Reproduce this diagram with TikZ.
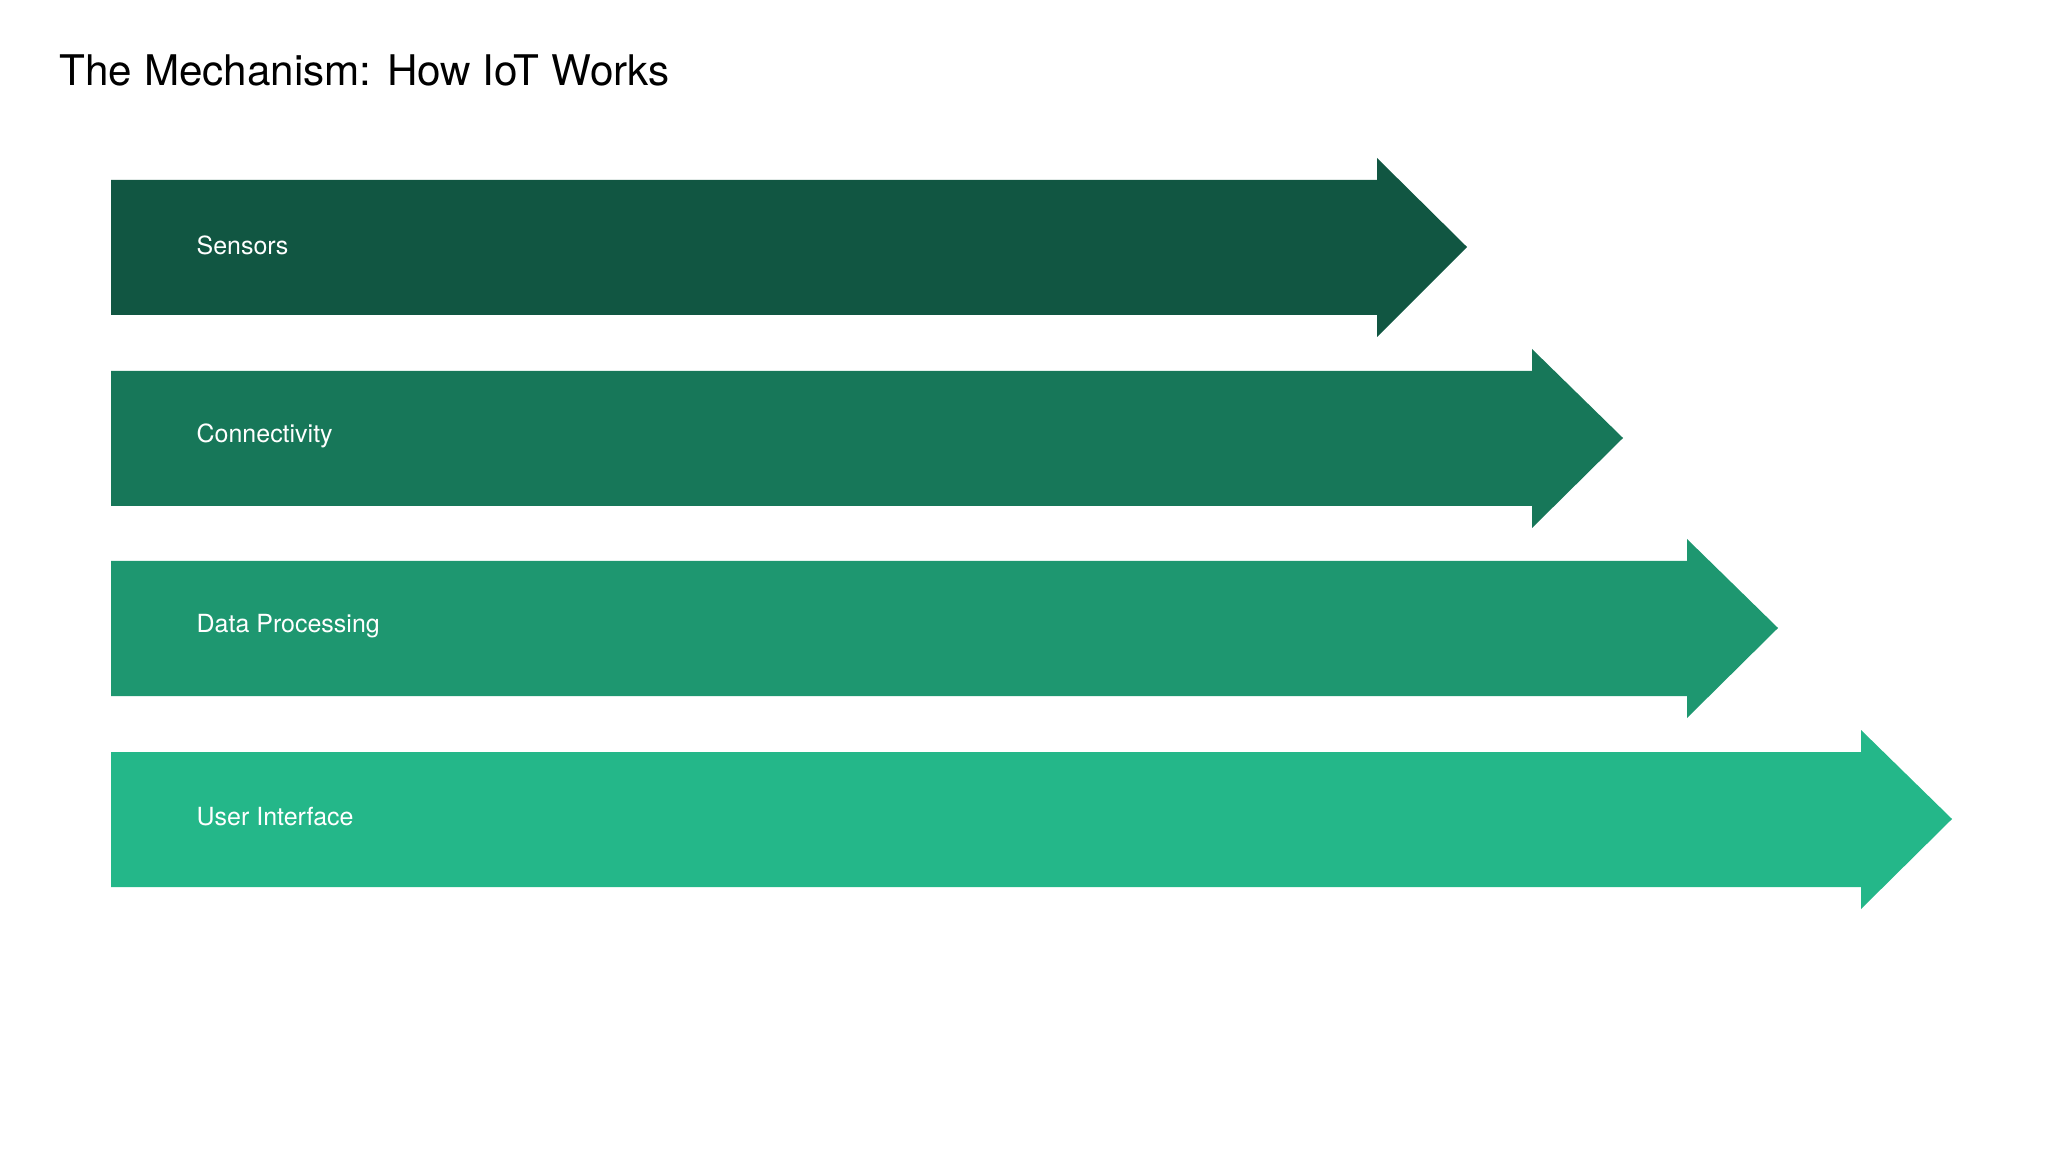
\documentclass[tikz,border=0pt]{standalone}
\usepackage{fontspec}
\setmainfont{TeX Gyre Heros}

\definecolor{stepone}{HTML}{115642}
\definecolor{steptwo}{HTML}{177759}
\definecolor{stepthree}{HTML}{1E9770}
\definecolor{stepfour}{HTML}{24B789}

\tikzset{
  steplabel/.style={anchor=west, text=white, font=\fontsize{7.1}{8}\selectfont},
}

\begin{document}
\begin{tikzpicture}[x=0.01cm,y=-0.01cm]
\useasboundingbox (0,0) rectangle (2048,1152);

\node[anchor=base west, inner sep=0pt, font=\fontsize{12}{14}\selectfont] (title) at (59,86) {The Mechanism: How IoT Works};

% arrows
\path[fill=stepone] (111,180) -- (1377,180) -- (1377,158) -- (1467,247) -- (1377,337) -- (1377,315) -- (111,315) -- cycle;
\path[fill=steptwo] (111,371) -- (1532,371) -- (1532,349) -- (1623,438) -- (1532,528) -- (1532,506) -- (111,506) -- cycle;
\path[fill=stepthree] (111,561) -- (1687,561) -- (1687,539) -- (1778,628) -- (1687,718) -- (1687,696) -- (111,696) -- cycle;
\path[fill=stepfour] (111,752) -- (1861,752) -- (1861,730) -- (1952,819) -- (1861,909) -- (1861,887) -- (111,887) -- cycle;

\node[steplabel, inner sep=0pt] (sensors) at (196,245) {Sensors};
\node[steplabel, inner sep=0pt] (connect) at (196,436) {Connectivity};
\node[steplabel, inner sep=0pt] (process) at (196,626) {Data Processing};
\node[steplabel, inner sep=0pt] (ui) at (196,817) {User Interface};
\end{tikzpicture}
\end{document}
